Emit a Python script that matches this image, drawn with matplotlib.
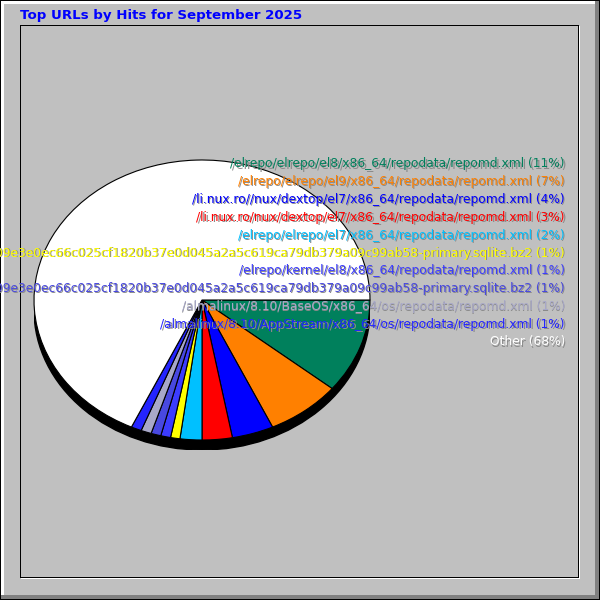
import matplotlib
matplotlib.use('Agg')
import matplotlib.pyplot as plt
from matplotlib.patches import Rectangle, Ellipse

title = "Top URLs by Hits for September 2025"

urls = [
    "/elrepo/elrepo/el8/x86_64/repodata/repomd.xml",
    "/elrepo/elrepo/el9/x86_64/repodata/repomd.xml",
    "/li.nux.ro//nux/dextop/el7/x86_64/repodata/repomd.xml",
    "/li.nux.ro/nux/dextop/el7/x86_64/repodata/repomd.xml",
    "/elrepo/elrepo/el7/x86_64/repodata/repomd.xml",
    "09e3e0ec66c025cf1820b37e0d045a2a5c619ca79db379a09c99ab58-primary.sqlite.bz2",
    "/elrepo/kernel/el8/x86_64/repodata/repomd.xml",
    "09e3e0ec66c025cf1820b37e0d045a2a5c619ca79db379a09c99ab58-primary.sqlite.bz2",
    "/almalinux/8.10/BaseOS/x86_64/os/repodata/repomd.xml",
    "/almalinux/8.10/AppStream/x86_64/os/repodata/repomd.xml",
    "Other",
]
# share of hits in percent
shares = [10.9, 7.2, 4.0, 2.9, 2.1, 0.9, 0.95, 0.95, 1.0, 1.0, 68.1]
shown_pct = [11, 7, 4, 3, 2, 1, 1, 1, 1, 1, 68]

colors = ['#00805c', '#ff8000', '#0000ff', '#ff0000', '#00c0ff', '#ffff00',
          '#3c3cff', '#4848e0', '#a8a8c8', '#2424ff', '#ffffff']

W = H = 600
fig = plt.figure(figsize=(6, 6), dpi=100)
fig.patch.set_facecolor('#c0c0c0')

bg = fig.add_axes([0, 0, 1, 1])
bg.set_xlim(0, W)
bg.set_ylim(H, 0)
bg.axis('off')

def px(ax, x, y, w, h, c):
    ax.add_patch(Rectangle((x, y), w, h, facecolor=c, edgecolor='none',
                           linewidth=0, antialiased=False))

# outer bevel
px(bg, 0, 0, 600, 600, 'black')
px(bg, 1, 1, 598, 598, '#808080')
px(bg, 1, 1, 594, 594, 'white')
px(bg, 4, 4, 591, 591, '#c0c0c0')
# inner frame
px(bg, 21, 26, 559, 553, 'white')
px(bg, 20, 25, 559, 553, 'black')
px(bg, 21, 26, 557, 551, '#c0c0c0')

bg.text(20, 15, title, color='#0000ff', fontsize=9.6, fontweight='bold',
        ha='left', va='center')

# pie geometry in pixels
cx, cy, rx, ry, depth = 202, 300, 168, 140, 10

def pie_axes(dy, z):
    a = fig.add_axes([(cx - rx) / W, 1 - (cy + ry + dy) / H,
                      2 * rx / W, 2 * ry / H])
    a.set_zorder(z)
    a.patch.set_alpha(0)
    return a

sh = pie_axes(depth, 1)
sh.add_patch(Ellipse((0, 0), 2, 2, facecolor='black', edgecolor='black', lw=1))
sh.set_xlim(-1, 1)
sh.set_ylim(-1, 1)
sh.axis('off')

pa = pie_axes(0, 2)
pa.pie(shares, colors=colors, startangle=0, counterclock=False,
       wedgeprops=dict(edgecolor='black', linewidth=0.8))
pa.set_aspect('auto')
pa.set_xlim(-1, 1)
pa.set_ylim(-1, 1)
pa.axis('off')

# labels drawn over the pie
ov = fig.add_axes([0, 0, 1, 1])
ov.set_zorder(5)
ov.patch.set_alpha(0)
ov.set_xlim(0, W)
ov.set_ylim(H, 0)
ov.axis('off')

label_colors = colors[:-1] + ['#ffffff']
for i, (u, p) in enumerate(zip(urls, shown_pct)):
    y = 164 + i * 17.8
    s = f"{u} ({p}%)"
    ov.text(566, y + 1, s, color='#8a8a8a', fontsize=8.8, ha='right', va='center')
    ov.text(565, y, s, color=label_colors[i], fontsize=8.8, ha='right', va='center')

fig.savefig('out.png', dpi=100, facecolor=fig.get_facecolor())
